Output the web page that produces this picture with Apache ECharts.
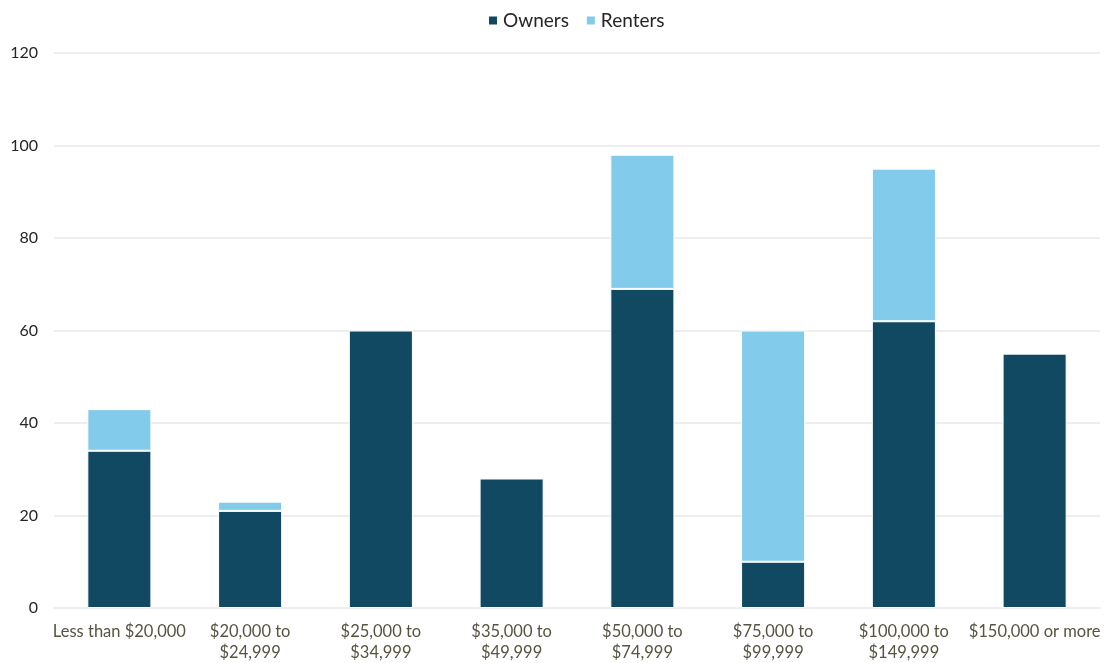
<!DOCTYPE html>
<html>
<head>
<meta charset="utf-8">
<script src="https://cdn.jsdelivr.net/npm/echarts@6/dist/echarts.min.js"></script>
<style>
  html, body { margin: 0; padding: 0; background: #fff; }
  #chart { width: 1112px; height: 663px; }
</style>
</head>
<body>
<div id="chart"></div>
<script>
// Household income brackets
const categories = [
  'Less than $20,000',
  '$20,000 to\n$24,999',
  '$25,000 to\n$34,999',
  '$35,000 to\n$49,999',
  '$50,000 to\n$74,999',
  '$75,000 to\n$99,999',
  '$100,000 to\n$149,999',
  '$150,000 or more'
];
const owners  = [34, 21, 60, 28, 69, 10, 62, 55];
const renters = [9, 2, 0, 0, 29, 50, 33, 0];
const yTicks = { min: 0, max: 120, interval: 20 };

const chart = echarts.init(document.getElementById('chart'));
const font = 'Lato, "Open Sans", sans-serif';

const barStyle = (color) => ({
  color: color,
  borderColor: '#ffffff',
  borderWidth: 1
});

chart.setOption({
  animation: false,
  textStyle: { fontFamily: font },
  legend: {
    top: 6,
    left: 482,
    itemWidth: 10,
    itemHeight: 10,
    itemGap: 16,
    icon: 'rect',
    textStyle: { fontSize: 19, color: '#262626', fontFamily: font },
    data: ['Owners', 'Renters']
  },
  grid: { left: 54, right: 12, top: 53, bottom: 55, containLabel: false },
  xAxis: {
    type: 'category',
    data: categories,
    axisTick: { show: false },
    axisLine: { show: true, lineStyle: { color: '#eeeeee', width: 2 } },
    axisLabel: {
      color: '#575441',
      fontSize: 16.5,
      lineHeight: 21,
      margin: 13,
      interval: 0
    }
  },
  yAxis: {
    type: 'value',
    min: yTicks.min,
    max: yTicks.max,
    interval: yTicks.interval,
    axisLine: { show: false },
    axisTick: { show: false },
    axisLabel: { color: '#262626', fontSize: 16, margin: 16 },
    splitLine: { lineStyle: { color: '#eeeeee', width: 2 } }
  },
  series: [
    {
      name: 'Owners',
      type: 'bar',
      stack: 'total',
      barWidth: '49%',
      data: owners,
      itemStyle: barStyle('#114962')
    },
    {
      name: 'Renters',
      type: 'bar',
      stack: 'total',
      barWidth: '49%',
      data: renters.map(v => v === 0 ? null : v),
      itemStyle: barStyle('#82cbea')
    }
  ]
});
</script>
</body>
</html>
